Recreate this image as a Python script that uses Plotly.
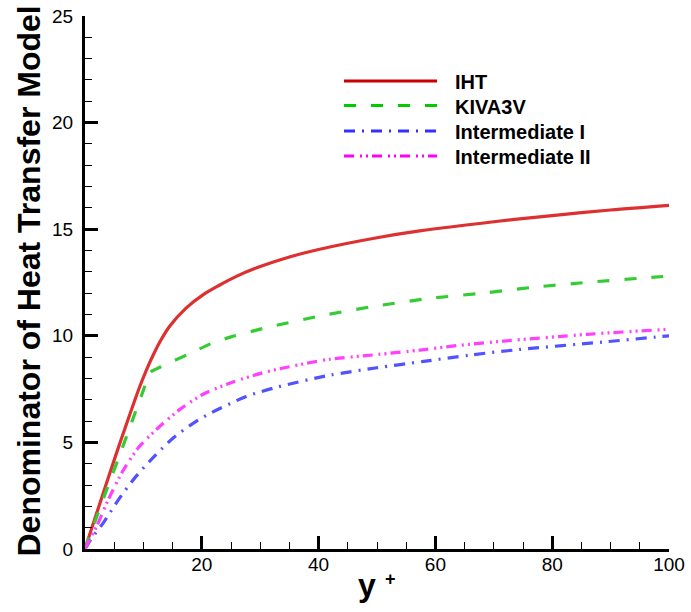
import plotly.graph_objects as go

# ---- data ----
iht_x = [0, 1, 2.5, 4.3, 6.2, 8.3, 9.35, 10.3, 11.6, 13, 14.5, 17.3, 20.2, 23, 26, 30, 35, 40, 50, 57.3, 70, 80, 90, 100]
iht_y = [0, 0.85, 2.1, 3.6, 5.15, 6.8, 7.6, 8.25, 9.05, 9.8, 10.45, 11.3, 11.92, 12.37, 12.8, 13.25, 13.7, 14.05, 14.6, 14.92, 15.35, 15.64, 15.9, 16.12]

kiva_x = [0, 2, 4, 6, 8, 10, 11.2, 13, 15, 17.4, 21.8, 25, 31, 40, 49, 58.5, 68, 77.6, 87, 96.5, 100]
kiva_y = [0, 1.5, 3.0, 4.45, 5.95, 7.45, 8.3, 8.55, 8.8, 9.1, 9.66, 9.95, 10.38, 10.92, 11.36, 11.74, 12.0, 12.3, 12.53, 12.73, 12.8]

int1_x = [0, 1, 3.2, 5.8, 8.6, 11.7, 15.2, 19.1, 21.7, 27.6, 33, 41.9, 50, 58, 66, 74.5, 88.8, 98.5, 100]
int1_y = [0, 0.45, 1.25, 2.34, 3.36, 4.3, 5.23, 6.0, 6.4, 7.15, 7.6, 8.15, 8.5, 8.8, 9.1, 9.36, 9.71, 9.96, 10.0]

int2_x = [0, 1, 2.05, 4.05, 6.5, 9.2, 12.6, 16.3, 20.3, 25, 30.5, 35, 41.9, 50, 57.4, 64, 71.6, 86, 99.7, 100]
int2_y = [0, 0.55, 1.09, 2.35, 3.67, 4.77, 5.7, 6.56, 7.27, 7.8, 8.27, 8.55, 8.9, 9.12, 9.33, 9.55, 9.75, 10.07, 10.3, 10.3]

names = ["IHT", "KIVA3V", "Intermediate I", "Intermediate II"]
curve_colors = ["#dd3030", "#33cc33", "#5252ff", "#ff40ff"]
legend_colors = ["#cc0000", "#00cc00", "#3030ff", "#ff00ff"]
dashes = ["solid", "12px,15px", "11px,7px,2px,7px", "10px,6px,2px,4px,2px,4px"]

x_ticks = [20, 40, 60, 80, 100]
y_ticks = [0, 5, 10, 15, 20, 25]

series = [(iht_x, iht_y), (kiva_x, kiva_y), (int1_x, int1_y), (int2_x, int2_y)]
smooth = [0.9, 0.4, 0.8, 0.8]

fig = go.Figure()
for (xs, ys), n, c, d, s in zip(series, names, curve_colors, dashes, smooth):
    fig.add_trace(go.Scatter(x=xs, y=ys, mode="lines", name=n,
                             line=dict(color=c, width=3.2, dash=d, shape="spline", smoothing=s),
                             showlegend=False))

# plot-area geometry in pixels (for placing legend/titles in paper coords)
PL, PR, PT, PB = 85, 669, 16, 549
PW, PH = PR - PL, PB - PT


def px_x(p):
    return (p - PL) / PW


def px_y(p):
    return (PB - p) / PH


# manual legend with long line samples, as in the reference
leg_y = [81, 105.5, 131, 156]
for n, c, d, py in zip(names, legend_colors, dashes, leg_y):
    fig.add_shape(type="line", xref="paper", yref="paper",
                  x0=px_x(344), x1=px_x(437), y0=px_y(py), y1=px_y(py),
                  line=dict(color=c, width=3.2, dash=d))
    fig.add_annotation(xref="paper", yref="paper", x=px_x(453), y=px_y(py + 1),
                       text="<b>" + n + "</b>", showarrow=False, xanchor="left", yanchor="middle",
                       font=dict(family="Liberation Sans, Arial", size=20, color="black"))

# axis titles
fig.add_annotation(xref="paper", yref="paper", x=px_x(28), y=px_y(281.5),
                   text="<b>Denominator of Heat Transfer Model</b>", textangle=-90,
                   showarrow=False, xanchor="center", yanchor="middle",
                   font=dict(family="Liberation Sans, Arial", size=32, color="black"))
fig.add_annotation(xref="paper", yref="paper", x=px_x(366.5), y=px_y(585),
                   text="<b>y</b>", showarrow=False, xanchor="center", yanchor="middle",
                   font=dict(family="Liberation Sans, Arial", size=32, color="black"))
fig.add_annotation(xref="paper", yref="paper", x=px_x(390), y=px_y(579),
                   text="<b>+</b>", showarrow=False, xanchor="center", yanchor="middle",
                   font=dict(family="Liberation Sans, Arial", size=18, color="black"))

axis_font = dict(family="Liberation Sans, Arial", size=19, color="black")
common = dict(ticks="inside", ticklen=13, tickwidth=2.5, tickcolor="black",
              showline=True, linecolor="black", linewidth=3, showgrid=False,
              zeroline=False, tickfont=axis_font, automargin=False)
fig.update_layout(
    width=691, height=612,
    margin=dict(l=PL, r=691 - PR, t=PT, b=612 - PB),
    paper_bgcolor="white", plot_bgcolor="white",
    font=axis_font,
    xaxis=dict(range=[0, 100], tickvals=x_ticks, ticklabelstandoff=-4,
               minor=dict(dtick=5, ticks="inside", ticklen=7, tickwidth=1.2, tickcolor="black", showgrid=False),
               **common),
    yaxis=dict(range=[0, 25], tickvals=y_ticks, ticklabelstandoff=5,
               minor=dict(dtick=1, ticks="inside", ticklen=7, tickwidth=1.2, tickcolor="black", showgrid=False),
               **common),
)

fig.write_html("out.html", config={"displayModeBar": False},
               post_script="document.body.style.margin='0';document.body.style.padding='0';document.body.style.overflow='hidden';")
